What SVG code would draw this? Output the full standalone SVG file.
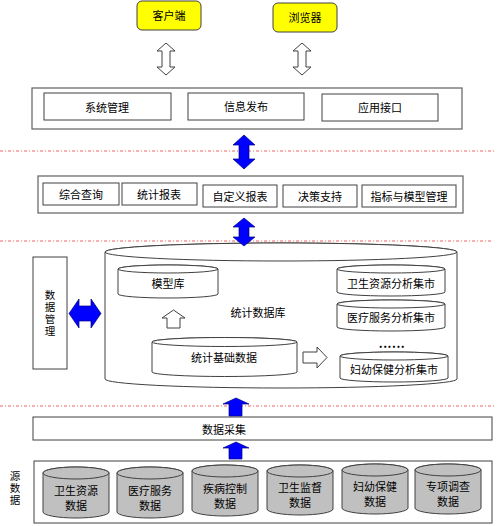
<svg xmlns="http://www.w3.org/2000/svg" width="500" height="526" viewBox="0 0 500 526">
<style>
.t{font-family:"Noto Sans CJK SC","Liberation Sans",sans-serif;font-size:11px;fill:#000;text-anchor:middle;dominant-baseline:central}
.v{font-family:"Noto Sans CJK SC","Liberation Sans",sans-serif;font-size:10.5px;fill:#000;text-anchor:middle;writing-mode:vertical-rl;text-orientation:upright;letter-spacing:1.5px}
.box{fill:#fff;stroke:#404040;stroke-width:1}
.outer{fill:#fff;stroke:#606060;stroke-width:1.2}
.yel{fill:#FFFF00;stroke:#404040;stroke-width:1}
.sep{stroke:#F06060;stroke-width:1;stroke-dasharray:3 2 1 2;fill:none}
.blue{fill:#0000FF;stroke:#000080;stroke-width:0.7}
.hollow{fill:#fff;stroke:#404040;stroke-width:1}
.cyl{fill:#fff;stroke:#404040;stroke-width:1}
.gcyl{fill:#C0C0C0;stroke:#404040;stroke-width:1}
</style>
<rect width="500" height="526" fill="#fff"/>
<g id="separators">
<line class="sep" x1="0" y1="151" x2="496" y2="151"/>
<line class="sep" x1="0" y1="241" x2="492" y2="241"/>
<line class="sep" x1="0" y1="406" x2="494" y2="406"/>
</g>
<g id="client"><rect class="yel" x="137" y="1" width="64" height="29" rx="5"/><text class="t" x="169" y="15">客户端</text></g>
<g id="browser"><rect class="yel" x="273" y="3" width="64" height="29" rx="5"/><text class="t" x="305" y="17">浏览器</text></g>
<g id="layer-app">
<rect class="outer" x="32" y="88" width="430" height="41"/>
<g id="sysmgr"><rect class="box" x="44" y="93" width="127" height="27"/><text class="t" x="107" y="107">系统管理</text></g>
<g id="infopub"><rect class="box" x="188" y="93" width="116" height="27"/><text class="t" x="246" y="106">信息发布</text></g>
<g id="appif"><rect class="box" x="322" y="94" width="116" height="27"/><text class="t" x="380" y="107">应用接口</text></g>
</g>
<g id="layer-analysis">
<rect class="outer" x="38" y="176" width="425" height="37"/>
<g id="query"><rect class="box" x="43" y="183" width="76" height="22"/><text class="t" x="81" y="194">综合查询</text></g>
<g id="report"><rect class="box" x="122" y="183" width="75" height="22"/><text class="t" x="159" y="194">统计报表</text></g>
<g id="custom"><rect class="box" x="203" y="185" width="74" height="22"/><text class="t" x="240" y="196">自定义报表</text></g>
<g id="decision"><rect class="box" x="283" y="185" width="74" height="22"/><text class="t" x="320" y="196">决策支持</text></g>
<g id="indicator"><rect class="box" x="362" y="185" width="94" height="22"/><text class="t" x="409" y="196">指标与模型管理</text></g>
</g>
<g id="datamgr"><rect class="box" x="33" y="257" width="34" height="112"/>
<text class="v" x="50" y="314">数据管理</text></g>
<g id="statdb">
<path class="cyl" d="M105,252 V379 A176,9 0 0 0 457,379 V252 A176,9 0 0 0 105,252 Z"/>
<ellipse class="cyl" cx="281" cy="252" rx="176" ry="9"/>
<text class="t" x="258" y="312">统计数据库</text>
</g>
<g id="modellib">
<path class="cyl" d="M118,269 V294 A50,4 0 0 0 218,294 V269 A50,4 0 0 0 118,269 Z"/>
<ellipse class="cyl" cx="168" cy="269" rx="50" ry="4"/>
<text class="t" x="168" y="283">模型库</text>
</g>
<g id="basedata">
<path class="cyl" d="M152,342 V372 A72.5,4.5 0 0 0 297,372 V342 A72.5,4.5 0 0 0 152,342 Z"/>
<ellipse class="cyl" cx="224.5" cy="342" rx="72.5" ry="4.5"/>
<text class="t" x="224" y="357">统计基础数据</text>
</g>
<g id="mart1">
<path class="cyl" d="M337,269 V292 A54,4 0 0 0 445,292 V269 A54,4 0 0 0 337,269 Z"/>
<ellipse class="cyl" cx="391" cy="269" rx="54" ry="4"/>
<text class="t" x="391" y="283">卫生资源分析集市</text>
</g>
<g id="mart2">
<path class="cyl" d="M337,304 V327 A54,4 0 0 0 445,327 V304 A54,4 0 0 0 337,304 Z"/>
<ellipse class="cyl" cx="391" cy="304" rx="54" ry="4"/>
<text class="t" x="391" y="317">医疗服务分析集市</text>
</g>
<text class="t" x="392" y="342" style="font-size:12px;font-weight:bold;letter-spacing:0.5px">......</text>
<g id="mart3">
<path class="cyl" d="M340,356 V378 A54,4 0 0 0 448,378 V356 A54,4 0 0 0 340,356 Z"/>
<ellipse class="cyl" cx="394" cy="356" rx="54" ry="4"/>
<text class="t" x="394" y="369">妇幼保健分析集市</text>
</g>
<g id="collect"><rect class="box" x="33" y="417" width="459" height="23"/><text class="t" x="224" y="429">数据采集</text></g>
<g id="source">
<rect class="box" x="34" y="461" width="458" height="62"/>
<text class="v" x="15" y="489">源数据</text>
<g id="src1"><path class="gcyl" d="M43,473 V512 A33,6 0 0 0 109,512 V473 A33,6 0 0 0 43,473 Z"/><ellipse class="gcyl" cx="76" cy="473" rx="33" ry="6"/><text class="t" x="76" y="490">卫生资源</text><text class="t" x="76" y="505">数据</text></g>
<g id="src2"><path class="gcyl" d="M117,473 V512 A33,6 0 0 0 183,512 V473 A33,6 0 0 0 117,473 Z"/><ellipse class="gcyl" cx="150" cy="473" rx="33" ry="6"/><text class="t" x="150" y="490">医疗服务</text><text class="t" x="150" y="505">数据</text></g>
<g id="src3"><path class="gcyl" d="M192,471 V510 A33,6 0 0 0 258,510 V471 A33,6 0 0 0 192,471 Z"/><ellipse class="gcyl" cx="225" cy="471" rx="33" ry="6"/><text class="t" x="225" y="488">疾病控制</text><text class="t" x="225" y="503">数据</text></g>
<g id="src4"><path class="gcyl" d="M267,471 V509 A33,6 0 0 0 333,509 V471 A33,6 0 0 0 267,471 Z"/><ellipse class="gcyl" cx="300" cy="471" rx="33" ry="6"/><text class="t" x="300" y="487">卫生监督</text><text class="t" x="300" y="502">数据</text></g>
<g id="src5"><path class="gcyl" d="M342,470 V508 A33,6 0 0 0 408,508 V470 A33,6 0 0 0 342,470 Z"/><ellipse class="gcyl" cx="375" cy="470" rx="33" ry="6"/><text class="t" x="375" y="486">妇幼保健</text><text class="t" x="375" y="501">数据</text></g>
<g id="src6"><path class="gcyl" d="M415,470 V508 A33,6 0 0 0 481,508 V470 A33,6 0 0 0 415,470 Z"/><ellipse class="gcyl" cx="448" cy="470" rx="33" ry="6"/><text class="t" x="448" y="486">专项调查</text><text class="t" x="448" y="501">数据</text></g>
</g>
<g id="connectors">
<path class="hollow" d="M166,43 L175,51 H170 V67 H175 L166,75 L157,67 H162 V51 H157 Z"/>
<path class="hollow" d="M302,43 L311,51 H306 V67 H311 L302,75 L293,67 H298 V51 H293 Z"/>
<path class="blue" d="M244,135 L255,145 H249 V159 H255 L244,169 L233,159 H239 V145 H233 Z"/>
<path class="blue" d="M244,218 L255,227 H249 V237 H255 L244,246 L233,237 H239 V227 H233 Z"/>
<path class="blue" d="M69,313.5 L79,299 V306 H91 V299 L101,313.5 L91,328 V321 H79 V328 Z"/>
<path class="hollow" d="M173.5,310 L185,318 H180 V328 H167 V318 H162 Z"/>
<path class="hollow" d="M303,352 H317 V347 L327,357.5 L317,368 V363 H303 Z"/>
<path class="blue" d="M236,398 L249,404 H242 V416 H229 V404 H223 Z"/>
<path class="blue" d="M236,442 L249,448 H242 V459 H229 V448 H223 Z"/>
</g>
</svg>
